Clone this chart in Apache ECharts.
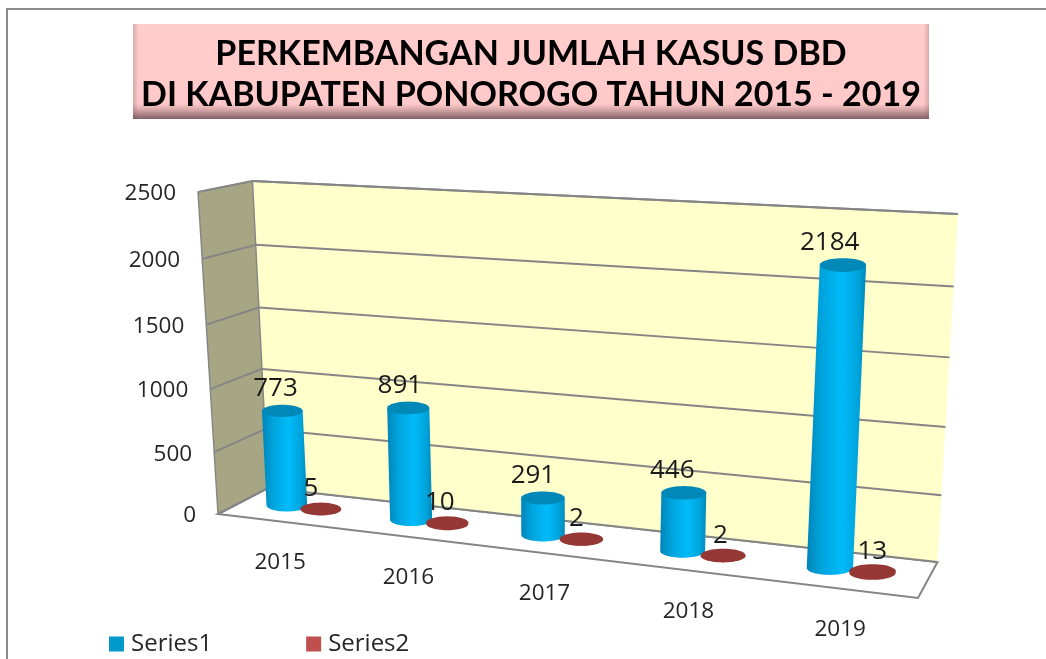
<!DOCTYPE html>
<html><head><meta charset="utf-8">
<style>html,body{margin:0;padding:0;background:#fff}#c{width:1046px;height:659px}</style>
<script src="https://cdn.jsdelivr.net/npm/echarts@6/dist/echarts.min.js"></script>
</head><body><div id="c"></div>
<script>
const years = ['2015','2016','2017','2018','2019'];
const series1 = [773, 891, 291, 446, 2184];
const series2 = [5, 10, 2, 2, 13];
const yTicks = [0, 500, 1000, 1500, 2000, 2500];
const titleText = 'PERKEMBANGAN JUMLAH KASUS DBD\nDI KABUPATEN PONOROGO TAHUN 2015 - 2019';

const GRID = {left: 218, top: 192, width: 700, height: 322};
const BOX = {
  fb0: [218, 514], fb1: [918, 598], ft0: [198, 192], ft1: [938.5, 236],
  bb0: [268, 488], bb1: [937.5, 562], bt0: [252.5, 181], bt1: [958, 214]
};
const lerp = (a, b, t) => [a[0] + (b[0] - a[0]) * t, a[1] + (b[1] - a[1]) * t];
const warpU = u => u * (1 - 0.14 * (1 - u));
const warpV = v => v * (1 - 0.05 * (1 - v));
function project(u, v, d) {
  const U = warpU(u), V = warpV(v);
  const front = lerp(lerp(BOX.fb0, BOX.fb1, U), lerp(BOX.ft0, BOX.ft1, U), V);
  const back = lerp(lerp(BOX.bb0, BOX.bb1, U), lerp(BOX.bt0, BOX.bt1, U), V);
  return lerp(front, back, d);
}
function unit(api, x, y) {
  const p = api.coord([x, y]);
  return [(p[0] - GRID.left) / GRID.width, (GRID.top + GRID.height - p[1]) / GRID.height];
}
const GRAY = '#858585';
const AXIS_FONT = '22.5px "Open Sans"';
const LABEL_FONT = '26px "Open Sans"';
const BAR_DEPTH = 0.52;

function line(a, b, w) {
  return {type: 'line', silent: true, shape: {x1: a[0], y1: a[1], x2: b[0], y2: b[1]}, style: {stroke: GRAY, lineWidth: w || 2}};
}
function poly(points, style) { return {type: 'polygon', silent: true, shape: {points}, style}; }

function renderWalls() {
  const c = (u, v, d) => project(u, v, d);
  return {type: 'group', children: [
    poly([c(0,0,0), c(1,0,0), c(1,0,1), c(0,0,1)], {fill: '#ffffff', stroke: GRAY, lineWidth: 2}),
    poly([c(0,0,1), c(1,0,1), c(1,1,1), c(0,1,1)], {fill: '#FFFFCC'}),
    poly([c(0,0,0), c(0,0,1), c(0,1,1), c(0,1,0)], {fill: '#A6A684', stroke: GRAY, lineWidth: 1.4}),
    line(c(0,1,1), c(1,1,1))
  ]};
}
function renderTick(params, api) {
  const [, v] = unit(api, 0, api.value(0));
  const wallFront = project(0, v, 0), corner = project(0, v, 1), far = project(1, v, 1);
  return {type: 'group', children: [
    line(wallFront, corner), line(corner, far),
    {type: 'text', silent: true, x: wallFront[0] - 22, y: wallFront[1] + 2,
     style: {text: String(api.value(0)), font: AXIS_FONT, fill: '#262626', textAlign: 'right', textVerticalAlign: 'middle'}}
  ]};
}
function renderYear(params, api) {
  const [u] = unit(api, api.value(0), 0);
  const p = project(u, 0, 0);
  return {type: 'text', silent: true, x: p[0] + 1, y: p[1] + 41,
    style: {text: years[api.value(0)], font: AXIS_FONT, fill: '#262626', textAlign: 'center', textVerticalAlign: 'middle'}};
}
function ellipsePts(cx, cy, rx, ry, from, to, n) {
  const pts = [];
  for (let i = 0; i <= n; i++) {
    const t = from + (to - from) * i / n;
    pts.push([cx + rx * Math.cos(t), cy + ry * Math.sin(t)]);
  }
  return pts;
}
function makeBarRenderer(shift, sideColors, capColor, labelDx, labelDy) {
  return function (params, api) {
    const val = api.value(1);
    const [u] = unit(api, api.value(0), 0);
    const [, v] = unit(api, 0, val);
    const base = project(u + shift, 0, BAR_DEPTH), top = project(u + shift, v, BAR_DEPTH);
    const rx = 20 + 3.5 * u, ry = rx * 0.3;
    const side = ellipsePts(base[0], base[1], rx, ry, 0, Math.PI, 28);
    side.unshift([top[0] + rx, top[1]]);
    side.push([top[0] - rx, top[1]]);
    return {type: 'group', children: [
      poly(side, {fill: {type: 'linear', x: 0, y: 0, x2: 1, y2: 0, colorStops: sideColors}}),
      poly(ellipsePts(top[0], top[1], rx, ry, 0, Math.PI * 2, 48), {fill: capColor}),
      {type: 'text', silent: true, x: top[0] + labelDx(u), y: top[1] + labelDy,
       style: {text: String(val), font: LABEL_FONT, fill: '#1a1a1a', textAlign: 'center', textVerticalAlign: 'middle'}}
    ]};
  };
}
const blueSide = [{offset: 0, color: '#0085B8'}, {offset: .25, color: '#00A4DD'}, {offset: .6, color: '#00BBFA'}, {offset: .88, color: '#00A2D9'}, {offset: 1, color: '#0088B8'}];
const redSide = [{offset: 0, color: '#953735'}, {offset: 1, color: '#953735'}];

const rows = vals => vals.map((v, i) => [i, v]);
const chart = echarts.init(document.getElementById('c'), null, {renderer: 'canvas'});
chart.setOption({
  animation: false,
  backgroundColor: '#ffffff',
  title: {text: titleText, left: 526, top: 29, textAlign: 'center', z: 20,
    textStyle: {fontFamily: 'Lato', fontWeight: 'bold', fontSize: 34, lineHeight: 41, color: '#000'}},
  legend: {data: ['Series1', 'Series2'], left: 109, top: 632, padding: 0, itemWidth: 15, itemHeight: 15, itemGap: 94, icon: 'rect',
    textStyle: {fontFamily: 'Open Sans', fontSize: 24, color: '#262626', padding: [0, 0, 0, 2]}},
  grid: GRID,
  xAxis: {type: 'category', data: years, show: false},
  yAxis: {type: 'value', min: 0, max: 2500, interval: 500, show: false},
  graphic: [
    {type: 'rect', silent: true, z: 0, shape: {x: 7, y: 9, width: 1060, height: 700}, style: {fill: '#fff', stroke: '#8a8a8a', lineWidth: 2}},
    {type: 'rect', silent: true, z: 1, shape: {x: 133, y: 24, width: 796, height: 95},
     style: {fill: {type: 'linear', x: 0, y: 0, x2: 0, y2: 1, colorStops: [{offset: 0, color: '#FFCCCC'}, {offset: .84, color: '#FFC9C9'}, {offset: .9, color: '#D8A9AA'}, {offset: 1, color: '#855F64'}]}}},
    {type: 'rect', silent: true, z: 1, shape: {x: 133, y: 24, width: 796, height: 95},
     style: {fill: {type: 'linear', x: 0, y: 0, x2: 1, y2: 0, colorStops: [{offset: 0, color: 'rgba(120,80,80,.28)'}, {offset: .007, color: 'rgba(120,80,80,0)'}, {offset: .993, color: 'rgba(120,80,80,0)'}, {offset: 1, color: 'rgba(120,80,80,.28)'}]}}}
  ],
  series: [
    {type: 'custom', name: 'walls', z: 2, clip: false, data: [[0]], renderItem: renderWalls, encode: {y: 0}},
    {type: 'custom', name: 'ticks', z: 3, clip: false, data: yTicks.map(v => [v]), renderItem: renderTick, encode: {y: 0}},
    {type: 'custom', name: 'years', z: 3, clip: false, data: years.map((y, i) => [i]), renderItem: renderYear, encode: {x: 0}},
    {type: 'custom', name: 'Series1', z: 4, clip: false, data: rows(series1), encode: {x: 0, y: 1}, itemStyle: {color: '#0099CC'},
     renderItem: makeBarRenderer(-0.028, blueSide, '#0088B8', u => -6 - 8 * u, -22)},
    {type: 'custom', name: 'Series2', z: 5, clip: false, data: rows(series2), encode: {x: 0, y: 1}, itemStyle: {color: '#C0504D'},
     renderItem: makeBarRenderer(0.028, redSide, '#953735', u => -11 + 12 * u, -20)}
  ]
});
</script></body></html>
